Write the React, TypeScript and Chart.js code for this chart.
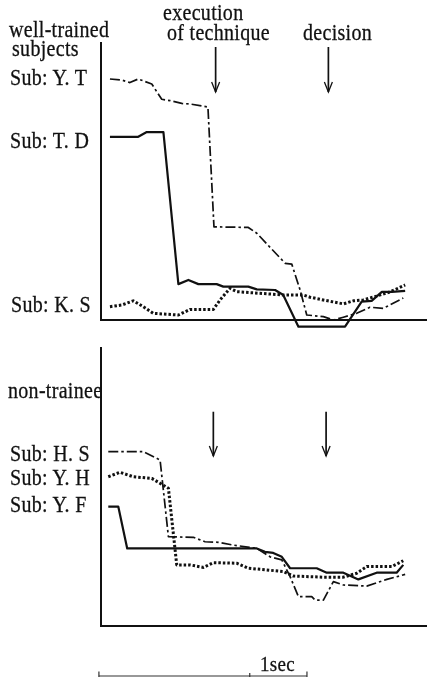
import React, { useEffect, useRef } from 'react';
import { Chart, registerables } from 'chart.js';

Chart.register(...registerables);

// ---------- data (x in ms, y in arbitrary units) ----------
const X_MIN = 10;
const X_MAX = 1577;

// well-trained subjects
const YT_x = [53, 110, 149, 189, 254, 302, 342, 398, 438, 524, 553, 718, 759, 895, 927, 967, 999, 1079, 1127, 1175, 1239, 1303, 1367, 1463];
const YT_y = [86.7, 86.3, 85.4, 86.7, 84.9, 79.4, 78.9, 77.9, 77.7, 76.6, 33.5, 33.3, 31.2, 20.4, 20.1, 10.8, 1.8, 1.2, 0, 1.0, 2.4, 4.6, 4.2, 7.9];

const TD_x = [53, 189, 230, 310, 382, 430, 478, 566, 598, 718, 759, 847, 886, 959, 1183, 1263, 1311, 1360, 1408, 1472];
const TD_y = [65.9, 65.9, 67.6, 67.6, 12.9, 14.4, 12.9, 12.9, 12.0, 12.0, 11.0, 10.8, 9.0, -2.4, -2.4, 6.6, 6.9, 10.1, 10.1, 10.5];

const KS_x = [53, 110, 165, 213, 261, 382, 438, 550, 582, 630, 662, 886, 983, 1015, 1079, 1175, 1223, 1271, 1335, 1399, 1472];
const KS_y = [4.8, 5.4, 6.9, 4.8, 2.4, 1.8, 3.8, 3.8, 7.2, 11.4, 10.2, 9.0, 9.0, 8.2, 7.2, 5.8, 6.9, 7.2, 8.6, 10.1, 12.6];

// non-trainees
const HS_x = [45, 213, 294, 334, 454, 510, 574, 646, 759, 823, 879, 919, 959, 1023, 1039, 1079, 1127, 1175, 1287, 1384, 1472];
const HS_y = [62.5, 62.5, 59.5, 32.0, 31.8, 30.2, 30.0, 29.0, 27.8, 24.8, 23.7, 17.7, 10.5, 10.5, 9.3, 9.3, 15.9, 14.7, 14.3, 16.7, 18.5];

const YH_x = [45, 101, 165, 254, 334, 374, 438, 502, 550, 662, 718, 807, 886, 935, 1079, 1175, 1239, 1287, 1408, 1463];
const YH_y = [53.5, 55.1, 53.5, 52.9, 49.4, 21.9, 21.9, 21.0, 22.7, 22.5, 20.7, 20.1, 19.5, 17.9, 17.5, 17.5, 18.9, 21.3, 21.3, 23.4];

const YF_x = [45, 93, 136, 759, 798, 838, 879, 919, 1047, 1095, 1175, 1247, 1335, 1431, 1463];
const YF_y = [42.8, 42.8, 27.8, 27.8, 26.6, 26.2, 24.8, 20.7, 20.7, 19.1, 19.1, 16.7, 19.1, 19.1, 21.9];

// event arrows (ms) and their vertical extent (y units)
const TOP_ARROWS = [561, 1103];
const TOP_ARROW_RANGE = [98.2, 82];
const BOTTOM_ARROWS = [550, 1092];
const BOTTOM_ARROW_RANGE = [76.8, 60.9];

// time scale bar ticks (ms)
const SCALE_BAR = [0, 725, 1000];

// texts
const EVENT_LABELS = ['execution', 'of technique', 'decision'];
const GROUP_LABELS = ['well-trained', 'subjects', 'non-trainee'];
const TOP_SUBJECTS = ['Sub: Y. T', 'Sub: T. D', 'Sub: K. S'];
const BOTTOM_SUBJECTS = ['Sub: H. S', 'Sub: Y. H', 'Sub: Y. F'];
const SCALE_LABEL = '1sec';

// ---------- styling ----------
const INK = '#111111';
type Kind = 'dashdot' | 'solid' | 'dotted';

function styleFor(kind: Kind) {
  if (kind === 'dashdot') return { borderWidth: 1.7, borderDash: [10, 3, 2.5, 3] };
  if (kind === 'dotted') return { borderWidth: 3, borderDash: [2.5, 2] };
  return { borderWidth: 2.2, borderDash: [] as number[] };
}

function toData(xs: number[], ys: number[]) {
  return xs.map((x, i) => ({ x, y: ys[i] }));
}

function makeDecor(arrows: number[], arrowRange: number[], scaleBar: number[] | null) {
  return {
    id: 'panelDecor',
    afterDatasetsDraw(chart: any) {
      const { ctx, chartArea, scales } = chart;
      const xs = scales.x;
      const ys = scales.y;
      const y0 = ys.getPixelForValue(0);
      ctx.save();
      ctx.strokeStyle = INK;
      ctx.lineCap = 'butt';
      // y axis
      ctx.lineWidth = 2;
      ctx.beginPath();
      ctx.moveTo(chartArea.left, chartArea.top);
      ctx.lineTo(chartArea.left, y0 + 1);
      ctx.stroke();
      // x axis
      ctx.lineWidth = 1.8;
      ctx.beginPath();
      ctx.moveTo(chartArea.left - 1, y0);
      ctx.lineTo(chartArea.right, y0);
      ctx.stroke();
      // arrows
      arrows.forEach((a) => {
        const px = xs.getPixelForValue(a);
        const t = ys.getPixelForValue(arrowRange[0]);
        const b = ys.getPixelForValue(arrowRange[1]);
        ctx.lineWidth = 1.7;
        ctx.beginPath();
        ctx.moveTo(px, t);
        ctx.lineTo(px, b);
        ctx.stroke();
        ctx.lineWidth = 1.3;
        ctx.beginPath();
        ctx.moveTo(px - 4, b - 10);
        ctx.lineTo(px, b);
        ctx.lineTo(px + 4, b - 10);
        ctx.stroke();
      });
      // scale bar
      if (scaleBar) {
        const by = chartArea.bottom + 50;
        const l = xs.getPixelForValue(scaleBar[0]);
        const r = xs.getPixelForValue(scaleBar[scaleBar.length - 1]);
        ctx.lineWidth = 1.2;
        ctx.strokeStyle = '#333';
        ctx.beginPath();
        ctx.moveTo(l, by);
        ctx.lineTo(r, by);
        ctx.stroke();
        scaleBar.forEach((v, i) => {
          const p = xs.getPixelForValue(v);
          const h = i === 0 || i === scaleBar.length - 1 ? 4.5 : 3;
          ctx.beginPath();
          ctx.moveTo(p, by - h);
          ctx.lineTo(p, by + 1);
          ctx.stroke();
        });
      }
      ctx.restore();
    },
  };
}

function buildChart(
  canvas: HTMLCanvasElement,
  series: { xs: number[]; ys: number[]; kind: Kind; label: string }[],
  padding: { left: number; top: number; right: number; bottom: number },
  arrows: number[],
  arrowRange: number[],
  scaleBar: number[] | null
) {
  return new Chart(canvas, {
    type: 'line',
    data: {
      datasets: series.map((s) => ({
        label: s.label,
        data: toData(s.xs, s.ys),
        borderColor: INK,
        backgroundColor: INK,
        pointRadius: 0,
        tension: 0,
        fill: false,
        clip: false as any,
        borderJoinStyle: 'round' as const,
        ...styleFor(s.kind),
      })),
    },
    options: {
      animation: false,
      responsive: false,
      maintainAspectRatio: false,
      layout: { padding },
      plugins: { legend: { display: false }, tooltip: { enabled: false }, title: { display: false } },
      scales: {
        x: { type: 'linear', min: X_MIN, max: X_MAX, display: false },
        y: { type: 'linear', min: 0, max: 100, display: false },
      },
    },
    plugins: [makeDecor(arrows, arrowRange, scaleBar)],
  });
}

const textStyle: React.CSSProperties = {
  position: 'absolute',
  fontFamily: '"Liberation Serif", "DejaVu Serif", serif',
  letterSpacing: '0.3px',
  color: INK,
  whiteSpace: 'nowrap',
  WebkitTextStroke: '0.25px #111',
};

function Label({ text, left, baseline, size }: { text: string; left: number; baseline: number; size?: number }) {
  const fs = size || 20;
  const asc = fs * 0.84;
  return (
    <div
      style={{
        ...textStyle,
        fontSize: fs,
        lineHeight: fs + 'px',
        left,
        top: baseline - asc,
        transform: 'scaleY(1.12)',
        transformOrigin: `0px ${asc}px`,
      }}
    >
      {text}
    </div>
  );
}

export default function App() {
  const topRef = useRef<HTMLCanvasElement>(null);
  const botRef = useRef<HTMLCanvasElement>(null);

  useEffect(() => {
    const top = buildChart(
      topRef.current!,
      [
        { xs: YT_x, ys: YT_y, kind: 'dashdot', label: TOP_SUBJECTS[0] },
        { xs: TD_x, ys: TD_y, kind: 'solid', label: TOP_SUBJECTS[1] },
        { xs: KS_x, ys: KS_y, kind: 'dotted', label: TOP_SUBJECTS[2] },
      ],
      { left: 101, top: 42, right: 0, bottom: 20 },
      TOP_ARROWS,
      TOP_ARROW_RANGE,
      null
    );
    const bot = buildChart(
      botRef.current!,
      [
        { xs: HS_x, ys: HS_y, kind: 'dashdot', label: BOTTOM_SUBJECTS[0] },
        { xs: YH_x, ys: YH_y, kind: 'dotted', label: BOTTOM_SUBJECTS[1] },
        { xs: YF_x, ys: YF_y, kind: 'solid', label: BOTTOM_SUBJECTS[2] },
      ],
      { left: 101, top: 7, right: 0, bottom: 55 },
      BOTTOM_ARROWS,
      BOTTOM_ARROW_RANGE,
      SCALE_BAR
    );
    return () => {
      top.destroy();
      bot.destroy();
    };
  }, []);

  return (
    <div style={{ position: 'absolute', left: 0, top: 0, width: 427, height: 681, background: '#fff', overflow: 'hidden' }}>
      <canvas ref={topRef} width={427} height={340} style={{ position: 'absolute', left: 0, top: 0, width: 427, height: 340 }} />
      <canvas ref={botRef} width={427} height={341} style={{ position: 'absolute', left: 0, top: 340, width: 427, height: 341 }} />
      <Label text={EVENT_LABELS[0]} left={163} baseline={19.5} />
      <Label text={EVENT_LABELS[1]} left={167} baseline={40} />
      <Label text={EVENT_LABELS[2]} left={303} baseline={40} />
      <Label text={GROUP_LABELS[0]} left={9} baseline={37} />
      <Label text={GROUP_LABELS[1]} left={12} baseline={55.5} />
      <Label text={TOP_SUBJECTS[0]} left={10} baseline={85} />
      <Label text={TOP_SUBJECTS[1]} left={10} baseline={148} />
      <Label text={TOP_SUBJECTS[2]} left={11} baseline={312} />
      <Label text={GROUP_LABELS[2]} left={8} baseline={398} />
      <Label text={BOTTOM_SUBJECTS[0]} left={10} baseline={461} />
      <Label text={BOTTOM_SUBJECTS[1]} left={10} baseline={485} />
      <Label text={BOTTOM_SUBJECTS[2]} left={10} baseline={512} />
      <Label text={SCALE_LABEL} left={260} baseline={670.5} size={19} />
    </div>
  );
}
